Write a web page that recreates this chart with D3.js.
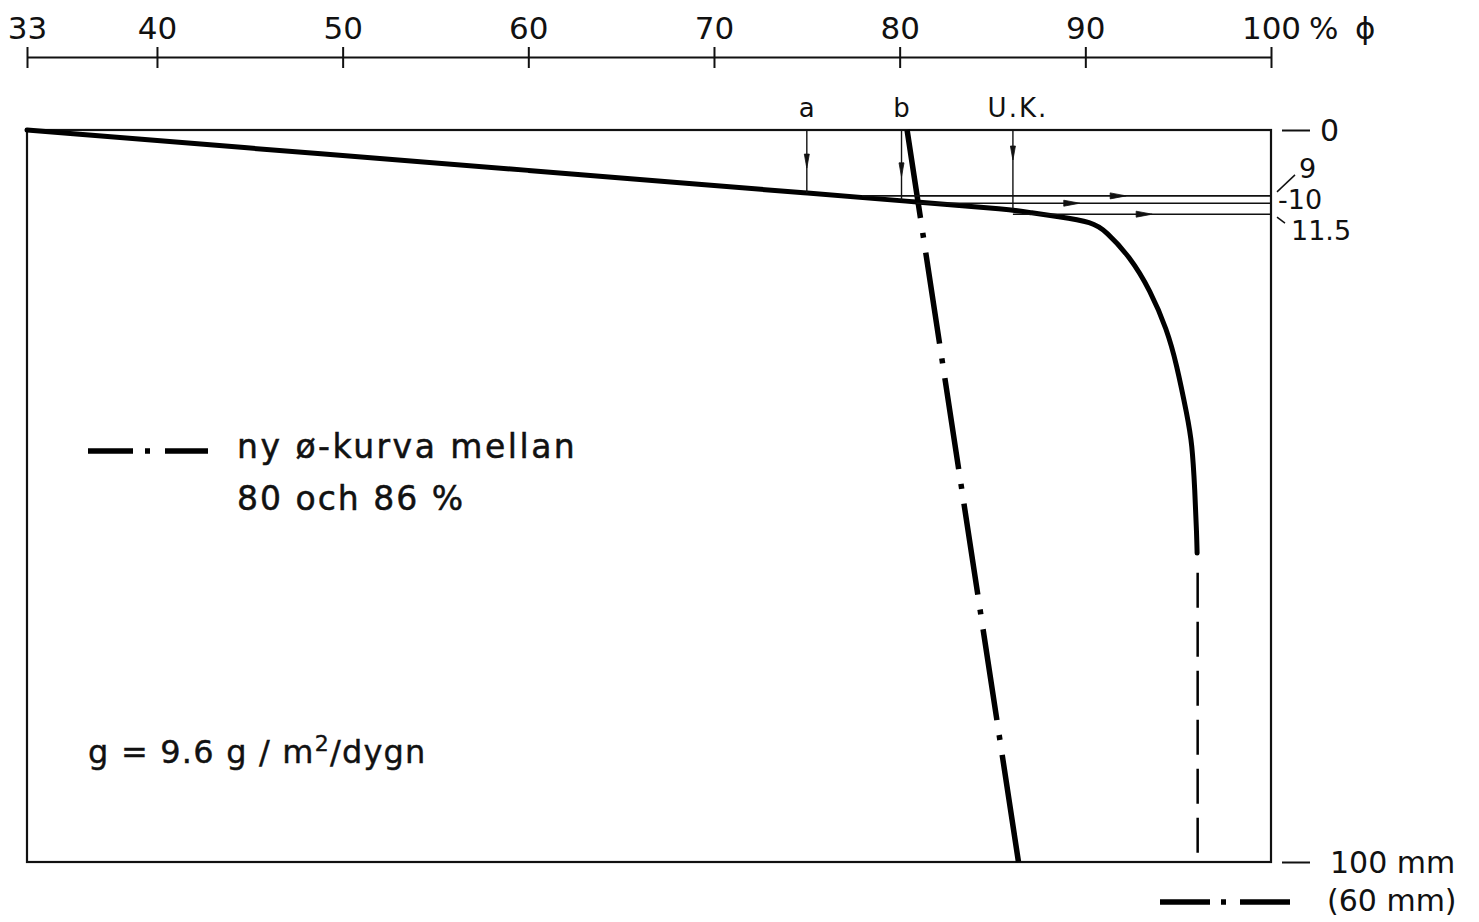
<!DOCTYPE html>
<html>
<head>
<meta charset="utf-8">
<script src="https://cdn.jsdelivr.net/npm/d3@7"></script>
<style>
  html, body { margin: 0; padding: 0; background: #fff; }
  svg { display: block; }
  text { font-family: "DejaVu Sans", sans-serif; fill: #111; }
</style>
</head>
<body>
<svg id="chart" width="1479" height="922"></svg>
<script>
// ---- data ----
const topTicks = [33, 40, 50, 60, 70, 80, 90, 100];
const rightTicks = [0, 100];
const rightTickLabels = ["0", "100 mm"];

// main measured curve: moisture (% ϕ) vs depth (mm)
const curveValues = [33, 50, 60, 70, 75, 80.2, 86.2, 87.0, 88.5, 90.4, 91.1, 92.4, 93.5, 94.4, 94.9, 95.5, 95.75, 95.9, 96.0, 96.02];
const curveDepths = [0, 3.5, 5.5, 7.6, 8.6, 9.7, 10.9, 11.3, 11.8, 12.6, 13.8, 17.3, 21.9, 27.3, 31.8, 39.2, 42.8, 49.2, 55.5, 57.8];

// dashed continuation of the main curve
const tailValues = [96.05, 96.05];
const tailDepths = [60.5, 100];

// new ø-curve between 80 and 86 %
const newValues = [80.4, 86.4];
const newDepths = [0, 100];

// vertical marker arrows a, b, U.K.
const markerLabels = ["a", "b", "U.K."];
const markerValues = [75, 80.1, 86.1];
const markerEndDepths = [8.6, 9.6, 10.8];
const markerTipDepths = [5.2, 6.4, 4.1];

// horizontal depth lines 9, 10, 11.5 mm
const levelDepths = [9, 10, 11.5];
const levelLabels = ["9", "-10", "11.5"];
const levelStartValues = [78.0, 80.9, 86.1];
const levelTipValues = [92.2, 89.7, 93.6];

// ---- drawing ----
const svg = d3.select("#chart");
const x = d3.scaleLinear().domain([33, 100]).range([27, 1271]);
const y = d3.scaleLinear().domain([0, 100]).range([130, 862]);

// top axis
const topAxis = d3.axisTop(x).tickValues(topTicks).tickSize(0).tickSizeOuter(0).tickPadding(18)
  .tickFormat(d3.format("d"));
const gTop = svg.append("g").attr("transform", "translate(0,57)").call(topAxis);
gTop.select(".domain").attr("stroke", "#111").attr("stroke-width", 2);
gTop.selectAll(".tick line").attr("y1", -10).attr("y2", 11).attr("stroke", "#111").attr("stroke-width", 2);
gTop.selectAll(".tick text").attr("font-size", 31).attr("font-family", "DejaVu Sans").attr("fill", "#111");
svg.append("text").attr("x", x(100) + 38).attr("y", 39).attr("font-size", 31).text("%");
svg.append("text").attr("x", x(100) + 84).attr("y", 39).attr("font-size", 31).text("\u03D5");

// frame
svg.append("rect")
  .attr("x", x(33)).attr("y", y(0))
  .attr("width", x(100) - x(33)).attr("height", y(100) - y(0))
  .attr("fill", "none").attr("stroke", "#111").attr("stroke-width", 2.2);

// right axis (0 and 100 mm)
const rightAxis = d3.axisRight(y).tickValues(rightTicks).tickSize(28).tickPadding(10)
  .tickFormat((d, i) => rightTickLabels[i]);
const gRight = svg.append("g").attr("transform", `translate(${x(100) + 11},0)`).call(rightAxis);
gRight.select(".domain").remove();
gRight.selectAll(".tick line").attr("stroke", "#111").attr("stroke-width", 2);
gRight.selectAll(".tick text").attr("font-size", 30).attr("font-family", "DejaVu Sans").attr("fill", "#111")
  .attr("dy", "0.36em").attr("dx", (d, i) => i === 1 ? 10 : 0);

// main curve
svg.append("path")
  .datum(curveValues.map((v, i) => [v, curveDepths[i]]))
  .attr("d", d3.line().x(d => x(d[0])).y(d => y(d[1])).curve(d3.curveBasis))
  .attr("fill", "none").attr("stroke", "#000").attr("stroke-width", 5)
  .attr("stroke-linecap", "round").attr("stroke-linejoin", "round");

// dashed tail
svg.append("path")
  .datum(tailValues.map((v, i) => [v, tailDepths[i]]))
  .attr("d", d3.line().x(d => x(d[0])).y(d => y(d[1])))
  .attr("fill", "none").attr("stroke", "#000").attr("stroke-width", 2.5)
  .attr("stroke-dasharray", "35,14");

// new dash-dot curve
const dashDot = [89, 15, 5, 15];
for (let k = 0; k < 4; k++) dashDot.push(92, 15, 5, 15);
dashDot.push(300);
svg.append("path")
  .datum(newValues.map((v, i) => [v, newDepths[i]]))
  .attr("d", d3.line().x(d => x(d[0])).y(d => y(d[1])))
  .attr("fill", "none").attr("stroke", "#000").attr("stroke-width", 5.5)
  .attr("stroke-dasharray", dashDot.join(","));

// arrowhead helper
function arrowHead(g, tx, ty, dir, len, half) {
  let pts;
  if (dir === "down") pts = [[tx, ty], [tx - half, ty - len], [tx + half, ty - len]];
  else pts = [[tx, ty], [tx - len, ty - half], [tx - len, ty + half]];
  g.append("path").attr("d", "M" + pts.map(p => p.join(",")).join("L") + "Z")
    .attr("fill", "#111").attr("stroke", "#111").attr("stroke-width", 0.8);
}

// vertical markers
const gm = svg.append("g");
markerLabels.forEach((lab, i) => {
  const mx = x(markerValues[i]);
  gm.append("line").attr("x1", mx).attr("x2", mx).attr("y1", y(0)).attr("y2", y(markerEndDepths[i]))
    .attr("stroke", "#111").attr("stroke-width", 1.4);
  arrowHead(gm, mx, y(markerTipDepths[i]), "down", 14, 2.5);
  gm.append("text").attr("x", mx + (i === 2 ? 5 : 0)).attr("y", 117).attr("text-anchor", "middle")
    .attr("font-size", 26).attr("letter-spacing", i === 2 ? 2 : 0).text(lab);
});

// horizontal level lines
const gl = svg.append("g");
levelDepths.forEach((d, i) => {
  const ly = y(d);
  gl.append("line").attr("x1", x(levelStartValues[i])).attr("x2", x(100)).attr("y1", ly).attr("y2", ly)
    .attr("stroke", "#111").attr("stroke-width", 1.6);
  arrowHead(gl, x(levelTipValues[i]), ly, "right", 16, 3);
});

// level labels on the right
const lr = x(100);
svg.append("line").attr("x1", lr + 6).attr("y1", y(9) - 4).attr("x2", lr + 24).attr("y2", y(9) - 21)
  .attr("stroke", "#111").attr("stroke-width", 1.5);
svg.append("text").attr("x", lr + 28).attr("y", y(9) - 18).attr("font-size", 27).text(levelLabels[0]);
svg.append("text").attr("x", lr + 7).attr("y", y(10) + 6).attr("font-size", 27).text(levelLabels[1]);
svg.append("line").attr("x1", lr + 6).attr("y1", y(11.5) + 3).attr("x2", lr + 14).attr("y2", y(11.5) + 9)
  .attr("stroke", "#111").attr("stroke-width", 1.5);
svg.append("text").attr("x", lr + 20).attr("y", y(11.5) + 26).attr("font-size", 27).text(levelLabels[2]);

// legend: new curve
svg.append("line").attr("x1", 88).attr("x2", 208).attr("y1", 451).attr("y2", 451)
  .attr("stroke", "#000").attr("stroke-width", 5.5).attr("stroke-dasharray", "45,12,5,15,43");
svg.append("text").attr("x", 237).attr("y", 458).attr("font-size", 33).attr("letter-spacing", 2.5)
  .attr("stroke", "#111").attr("stroke-width", 0.5).text("ny ø-kurva mellan");
svg.append("text").attr("x", 237).attr("y", 510).attr("font-size", 33).attr("letter-spacing", 2)
  .attr("stroke", "#111").attr("stroke-width", 0.5).text("80 och 86 %");

// bottom right legend (60 mm)
svg.append("line").attr("x1", 1160).attr("x2", 1290).attr("y1", 902).attr("y2", 902)
  .attr("stroke", "#000").attr("stroke-width", 5.5).attr("stroke-dasharray", "50,11,5,14,50");
svg.append("text").attr("x", 1327).attr("y", 911).attr("font-size", 30).text("(60 mm)");

// flux annotation
const gt = svg.append("text").attr("x", 88).attr("y", 763).attr("font-size", 32).attr("letter-spacing", 1.2)
  .attr("stroke", "#111").attr("stroke-width", 0.4);
gt.append("tspan").text("g = 9.6 g / m");
gt.append("tspan").attr("dy", -12).attr("font-size", 22).text("2");
gt.append("tspan").attr("dy", 12).text("/dygn");
</script>
</body>
</html>
